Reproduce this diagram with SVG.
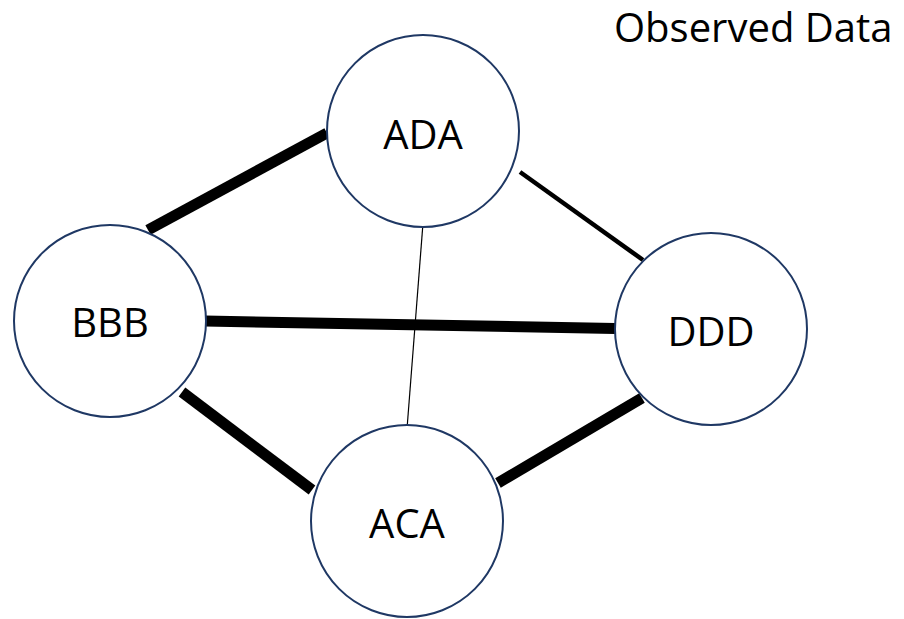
<svg xmlns="http://www.w3.org/2000/svg" width="904" height="619" viewBox="0 0 904 619">
  <style>
    .node circle { fill: #ffffff; stroke: #1f3864; stroke-width: 2; }
    .label { font-family: "Open Sans", "Liberation Sans", sans-serif; font-size: 40px; fill: #000000; text-anchor: middle; }
    .title { font-family: "Open Sans", "Liberation Sans", sans-serif; font-size: 40px; fill: #000000; }
    .edge { stroke: #000000; stroke-linecap: butt; fill: none; }
    .heavy { stroke-width: 11; }
    .medium { stroke-width: 4.5; }
    .light { stroke-width: 1.2; }
  </style>
  <rect width="904" height="619" fill="#ffffff"/>

  <text class="title" x="614" y="42">Observed Data</text>

  <g id="connectors">
    <line class="edge heavy" x1="327" y1="133" x2="148" y2="230"/>
    <line class="edge heavy" x1="205" y1="321" x2="615" y2="328.5"/>
    <line class="edge medium" x1="520" y1="172" x2="643" y2="260"/>
    <line class="edge light" x1="422.7" y1="227" x2="407.3" y2="425"/>
    <line class="edge heavy" x1="182" y1="392" x2="312" y2="490"/>
    <line class="edge heavy" x1="498" y1="483" x2="642" y2="398"/>
  </g>

  <g id="node-ADA" class="node">
    <circle cx="423" cy="131" r="96"/>
    <text class="label" x="423" y="149">ADA</text>
  </g>
  <g id="node-BBB" class="node">
    <circle cx="110" cy="321" r="96"/>
    <text class="label" x="110" y="337">BBB</text>
  </g>
  <g id="node-DDD" class="node">
    <circle cx="711" cy="329" r="96"/>
    <text class="label" x="711" y="346">DDD</text>
  </g>
  <g id="node-ACA" class="node">
    <circle cx="407" cy="521" r="96"/>
    <text class="label" x="407" y="538">ACA</text>
  </g>
</svg>
